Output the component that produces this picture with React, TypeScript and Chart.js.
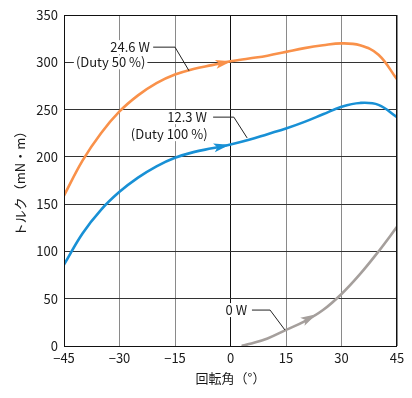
import React, { useEffect, useRef } from "react";
import { Chart, registerables } from "chart.js";

Chart.register(...registerables);

const xTicks = [-45, -30, -15, 0, 15, 30, 45];
const orangeX = [-45, -40, -35, -30, -25, -20, -15, -10, -5, 0, 5, 10, 15, 20, 25, 30, 35, 40, 45];
const orangeY = [159, 196, 225, 248, 265, 278, 287, 293, 297, 301, 304, 307, 311, 315, 318, 320, 318, 308, 282];
const blueX = [-45, -40, -35, -30, -25, -20, -15, -10, -5, 0, 5, 10, 15, 20, 25, 30, 35, 40, 45];
const blueY = [86, 119, 144, 163, 178, 190, 199, 205, 209, 213, 218, 224, 230, 237, 245, 253, 257, 255, 242];
const greyX = [3, 5, 10, 15, 20, 25, 30, 35, 40, 45];
const greyY = [0, 2, 8, 17, 26, 38, 55, 76, 100, 126];

const seriesLabels = ["24.6 W", "12.3 W", "0 W"];
const seriesColors = ["#F9914A", "#1890D5", "#A59F9C"];
const arrowAt = [0, -0.5, 23];

// annotation labels: text, right edge x and centre y in data units
const labelTexts = ["24.6 W", "(Duty 50 %)", "12.3 W", "(Duty 100 %)", "0 W"];
const labelX = [-21.8, -23.0, -6.4, -6.2, 4.5];
const labelY = [316, 300, 242, 224, 38];
// leader lines: polyline points in data units
const leaderXs = [[-20.9, -15, -11.2], [-4.7, 0.9, 4.5], [5.8, 10.7, 14.7]];
const leaderYs = [[316, 316, 291], [242, 242, 220], [38, 38, 17]];

const FONT = '"Noto Sans CJK JP", "Noto Sans", sans-serif';

const pts = (xs: number[], ys: number[]) => xs.map((x, i) => ({ x, y: ys[i] }));

const decorPlugin = {
  id: "decor",
  afterDatasetsDraw(chart: any) {
    const { ctx, chartArea, scales } = chart;
    const xs = scales.x;
    const ys = scales.y;
    ctx.save();
    ctx.strokeStyle = "#111";
    ctx.lineWidth = 1;
    ctx.strokeRect(chartArea.left + 0.5, chartArea.top + 0.5, chartArea.right - chartArea.left - 1, chartArea.bottom - chartArea.top);
    chart.data.datasets.forEach((ds: any, di: number) => {
      const meta = chart.getDatasetMeta(di);
      const data = ds.data;
      const ax = arrowAt[di];
      for (let i = 0; i < data.length - 1; i++) {
        if (ax >= data[i].x && ax <= data[i + 1].x) {
          const p0 = meta.data[i];
          const p1 = meta.data[i + 1];
          const t = (ax - data[i].x) / (data[i + 1].x - data[i].x);
          const px = p0.x + (p1.x - p0.x) * t;
          const py = p0.y + (p1.y - p0.y) * t;
          const pa = meta.data[Math.max(0, i - 1)];
          const pb = meta.data[Math.min(data.length - 1, i + 1)];
          const ang = Math.atan2(pb.y - pa.y, pb.x - pa.x);
          const L = 15, W = 4.5, N = 3.5;
          ctx.save();
          ctx.translate(px, py);
          ctx.rotate(ang);
          ctx.fillStyle = ds.borderColor;
          ctx.beginPath();
          ctx.moveTo(1, 0);
          ctx.lineTo(-L, -W);
          ctx.lineTo(-L + N, 0);
          ctx.lineTo(-L, W);
          ctx.closePath();
          ctx.fill();
          ctx.restore();
          break;
        }
      }
    });
    ctx.strokeStyle = "#222";
    ctx.lineWidth = 1;
    leaderXs.forEach((lx, k) => {
      ctx.beginPath();
      lx.forEach((v, j) => {
        const X = xs.getPixelForValue(v);
        const Y = ys.getPixelForValue(leaderYs[k][j]);
        if (j === 0) ctx.moveTo(X, Y);
        else ctx.lineTo(X, Y);
      });
      ctx.stroke();
    });
    ctx.fillStyle = "#1a1a1a";
    ctx.font = "13px " + FONT;
    ctx.textAlign = "right";
    ctx.textBaseline = "middle";
    labelTexts.forEach((t, k) => {
      const X = xs.getPixelForValue(labelX[k]);
      const Y = ys.getPixelForValue(labelY[k]);
      const w = ctx.measureText(t).width;
      ctx.save();
      ctx.fillStyle = "#fff";
      ctx.fillRect(X - w - 2, Y - 7, w + 4, 14);
      ctx.restore();
      ctx.fillText(t, X, Y);
    });
    ctx.restore();
  },
};

export default function App() {
  const ref = useRef<HTMLCanvasElement | null>(null);
  useEffect(() => {
    document.body.style.margin = "0";
    const canvas = ref.current;
    if (!canvas) return;
    const mk = (i: number, xs: number[], ys: number[]) => ({
      label: seriesLabels[i],
      data: pts(xs, ys),
      borderColor: seriesColors[i],
      borderWidth: 2.6,
      pointRadius: 0,
      tension: 0.4,
      fill: false,
    });
    const chart = new Chart(canvas, {
      type: "line",
      data: {
        datasets: [mk(0, orangeX, orangeY), mk(1, blueX, blueY), mk(2, greyX, greyY)] as any,
      },
      options: {
        responsive: false,
        devicePixelRatio: 1,
        animation: false,
        layout: { padding: { top: 15, right: 15, left: 0, bottom: 0 } },
        plugins: { legend: { display: false }, tooltip: { enabled: false } },
        scales: {
          x: {
            type: "linear",
            min: -45,
            max: 45,
            afterBuildTicks: (s: any) => { s.ticks = xTicks.map((v) => ({ value: v })); },
            afterFit: (s: any) => { s.height = 52; },
            ticks: {
              padding: 4,
              color: "#1a1a1a",
              font: { size: 13, family: FONT },
              maxRotation: 0,
              callback: (v: any) => String(v).replace("-", "−"),
            },
            grid: {
              drawTicks: false,
              color: (c: any) => (c.tick && c.tick.value === 0 ? "#111" : "#8a8a8a"),
              lineWidth: 1,
            },
            border: { display: false },
            title: { display: true, text: "回転角（°）", color: "#1a1a1a", font: { size: 13, family: FONT }, padding: { top: 0, bottom: 12 } },
          },
          y: {
            min: 0,
            max: 350,
            afterFit: (s: any) => { s.width = 64; },
            ticks: { stepSize: 50, padding: 6, color: "#1a1a1a", font: { size: 13, family: FONT } },
            grid: { drawTicks: false, color: "#333", lineWidth: 1 },
            border: { display: false },
            title: { display: true, text: "トルク（mN・m）", color: "#1a1a1a", font: { size: 13, family: FONT }, padding: { top: 12, bottom: 0 } },
          },
        },
      } as any,
      plugins: [decorPlugin],
    });
    return () => chart.destroy();
  }, []);
  return (
    <div style={{ position: "fixed", left: 0, top: 0, width: 412, height: 398, background: "#fff" }}>
      <canvas ref={ref} width={412} height={398} />
    </div>
  );
}
